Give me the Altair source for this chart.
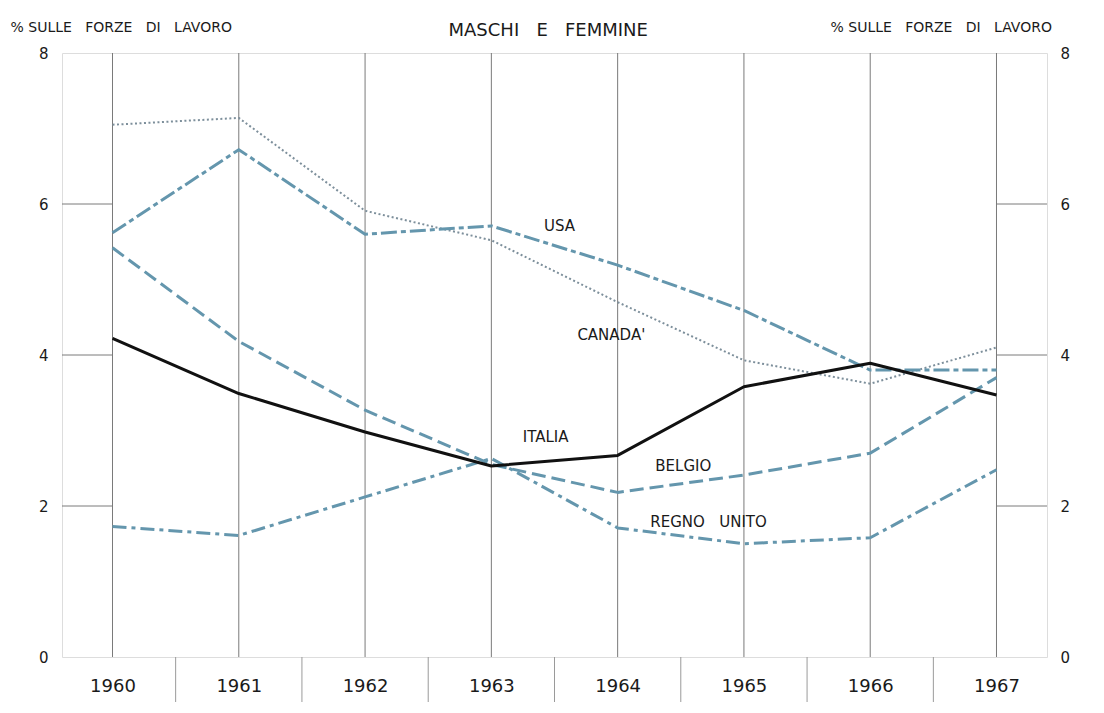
import altair as alt
import pandas as pd

years = [1960, 1961, 1962, 1963, 1964, 1965, 1966, 1967]
usa = [5.62, 6.72, 5.60, 5.71, 5.19, 4.59, 3.80, 3.80]
canada = [7.05, 7.14, 5.91, 5.52, 4.70, 3.93, 3.62, 4.10]
italia = [4.22, 3.49, 2.98, 2.53, 2.67, 3.58, 3.89, 3.47]
belgio = [5.42, 4.18, 3.27, 2.55, 2.18, 2.41, 2.70, 3.70]
regno_unito = [1.73, 1.61, 2.12, 2.63, 1.71, 1.50, 1.58, 2.48]

label_text = ["USA", "CANADA'", "ITALIA", "BELGIO", "REGNO\u00a0\u00a0\u00a0UNITO"]
label_x = [1963.54, 1963.95, 1963.43, 1964.52, 1964.72]
label_y = [5.71, 4.26, 2.91, 2.53, 1.79]

main_title = "MASCHI\u00a0\u00a0\u00a0E\u00a0\u00a0\u00a0FEMMINE"
axis_title = "%\u00a0SULLE\u00a0\u00a0\u00a0FORZE\u00a0\u00a0\u00a0DI\u00a0\u00a0\u00a0LAVORO"

y_ticks = [0, 2, 4, 6, 8]
stub_y = [2, 4, 6]

W, H = 985, 604
BLUE = "#6496ad"
GRID = "#7a7a7a"
INK = "#1a1a1a"
FONT = "DejaVu Sans"

xscale = alt.Scale(domain=[1959.6, 1967.4], nice=False, zero=False)
yscale = alt.Scale(domain=[0, 8], nice=False)

xaxis = alt.Axis(values=years, format="d", ticks=False, domain=False, grid=False,
                 labelFontSize=18, labelFont=FONT, labelColor=INK,
                 labelPadding=20, title=None)
yaxis_left = alt.Axis(values=y_ticks, ticks=False, domain=False, grid=False,
                      labelFontSize=15, labelFont=FONT, labelColor=INK,
                      labelPadding=14,
                      title=axis_title, titleAngle=0,
                      titleX=-52, titleY=-26, titleAlign="left",
                      titleBaseline="middle", titleFont=FONT,
                      titleFontSize=14, titleFontWeight="normal", titleColor=INK)
yaxis_right = alt.Axis(values=y_ticks, ticks=False, domain=False, grid=False,
                       orient="right",
                       labelFontSize=15, labelFont=FONT, labelColor=INK,
                       labelPadding=13,
                       title=axis_title, titleAngle=0,
                       titleX=-217, titleY=-26, titleAlign="left",
                       titleBaseline="middle", titleFont=FONT,
                       titleFontSize=14, titleFontWeight="normal", titleColor=INK)

X = alt.X("year:Q", scale=xscale, axis=xaxis)
Y = alt.Y("value:Q", scale=yscale, axis=yaxis_left)

def series_df(vals):
    return pd.DataFrame({"year": years, "value": vals})

# vertical year gridlines (full height)
grid_df = pd.DataFrame({"year": years, "value": [0] * len(years), "top": [8] * len(years)})
grid = alt.Chart(grid_df).mark_rule(color=GRID, strokeWidth=1).encode(
    x=X, y=Y, y2="top:Q")

# left tick stubs
stub_l_df = pd.DataFrame({"year": [1959.6] * 3, "year2": [1960] * 3, "value": stub_y})
stub_l = alt.Chart(stub_l_df).mark_rule(color=GRID, strokeWidth=1).encode(
    x=X, x2="year2:Q", y=Y)

# bottom label separators
sep_df = pd.DataFrame({"year": [y + 0.5 for y in years[:-1]]})
seps = alt.Chart(sep_df).mark_rule(color="#9a9a9a", strokeWidth=1).encode(
    x=X, y=alt.value(H), y2=alt.value(H + 46))

def line(vals, color, width, dash=None):
    kw = dict(color=color, strokeWidth=width, strokeJoin="round")
    if dash:
        kw["strokeDash"] = dash
    return alt.Chart(series_df(vals)).mark_line(**kw).encode(x=X, y=Y)

l_canada = line(canada, "#7d8f9b", 2, [2, 2.5])
l_usa = line(usa, BLUE, 3, [16, 4, 5, 4])
l_belgio = line(belgio, BLUE, 3, [14, 6])
l_regno = line(regno_unito, BLUE, 3, [14, 5, 4, 5])
l_italia = line(italia, "#111111", 3)

lab_df = pd.DataFrame({"year": label_x, "value": label_y, "text": label_text})
labels = alt.Chart(lab_df).mark_text(font=FONT, fontSize=15, color=INK,
                                      align="center", baseline="middle").encode(
    x=X, y=Y, text="text:N")

# main title as text centered over the year span
title_df = pd.DataFrame({"year": [1963.45], "text": [main_title]})
title = alt.Chart(title_df).mark_text(font=FONT, fontSize=18, color=INK,
                                       align="center", baseline="alphabetic").encode(
    x=X, y=alt.value(-17), text="text:N")

inner = alt.layer(grid, stub_l, seps, l_canada, l_usa, l_belgio,
                  l_regno, l_italia, labels, title)

# right side: tick stubs with right-hand axis
stub_r_df = pd.DataFrame({"year": [1967] * 3, "year2": [1967.4] * 3, "value": stub_y})
stub_r = alt.Chart(stub_r_df).mark_rule(color=GRID, strokeWidth=1).encode(
    x=X, x2="year2:Q",
    y=alt.Y("value:Q", scale=yscale, axis=yaxis_right))

chart = alt.layer(inner, stub_r).resolve_scale(y="independent").properties(
    width=W, height=H,
    autosize=alt.AutoSizeParams(type="none"),
    padding={"left": 54, "top": 45, "right": 45, "bottom": 45},
).configure_view(stroke=GRID, strokeWidth=1).configure(background="white")

chart.save("out.html", embed_options={"renderer": "svg", "actions": False})
